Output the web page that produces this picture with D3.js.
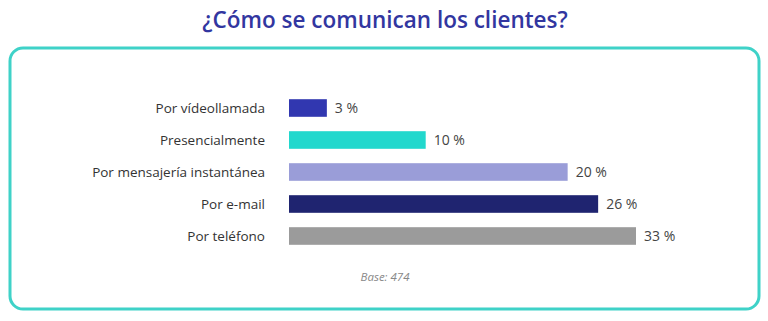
<!DOCTYPE html>
<html><head><meta charset="utf-8">
<script src="https://cdn.jsdelivr.net/npm/d3@7"></script>
<style>body{margin:0;background:#fff}svg{display:block}</style>
</head><body>
<script>
const categories = ["Por vídeollamada","Presencialmente","Por mensajería instantánea","Por e-mail","Por teléfono"];
const labelValues = [3, 10, 20, 26, 33];          // printed percentages
const barValues = [3.6, 13.0, 26.5, 29.4, 33.0];  // bar lengths as drawn in the picture (same % units)
const colors = ["#3137b0","#22d8cd","#9a9dd8","#1f2470","#9b9b9b"];
const title = "¿Cómo se comunican los clientes?";
const note = "Base: 474";

const W = 768, H = 321;
const svg = d3.select("body").append("svg").attr("width", W).attr("height", H);

svg.append("text").attr("x", 385).attr("y", 28).attr("text-anchor","middle")
  .attr("font-family","'Open Sans', sans-serif").attr("font-weight", 600)
  .attr("font-size", 22.5).attr("fill","#3236a0").text(title);

svg.append("rect").attr("x", 10).attr("y", 48).attr("width", 749).attr("height", 261)
  .attr("rx", 13).attr("fill","none").attr("stroke","#3fd2c8").attr("stroke-width", 3);

const x = d3.scaleLinear().domain([0, 33]).range([289, 636]);
const y = d3.scaleBand().domain(categories).range([92, 252]).paddingInner(0.45).paddingOuter(0.225);

const g = svg.append("g");
g.selectAll("rect.bar").data(categories).join("rect").attr("class","bar")
  .attr("x", x(0)).attr("y", d => y(d)).attr("height", y.bandwidth())
  .attr("width", (d,i) => x(barValues[i]) - x(0)).attr("fill", (d,i) => colors[i]);

g.selectAll("text.cat").data(categories).join("text").attr("class","cat")
  .attr("x", 265).attr("y", d => y(d) + y.bandwidth()/2).attr("dy","0.35em")
  .attr("text-anchor","end").attr("font-family","'Open Sans', sans-serif")
  .attr("font-size", 13.5).attr("fill","#333").text(d => d);

g.selectAll("text.val").data(categories).join("text").attr("class","val")
  .attr("x", (d,i) => x(barValues[i]) + 8).attr("y", d => y(d) + y.bandwidth()/2).attr("dy","0.35em")
  .attr("font-family","'Open Sans', sans-serif").attr("font-size", 14).attr("fill","#444")
  .text((d,i) => labelValues[i] + " %");

svg.append("text").attr("x", 385).attr("y", 281).attr("text-anchor","middle")
  .attr("font-family","'Open Sans', sans-serif").attr("font-style","italic")
  .attr("font-size", 11.5).attr("fill","#888").text(note);
</script>
</body></html>
